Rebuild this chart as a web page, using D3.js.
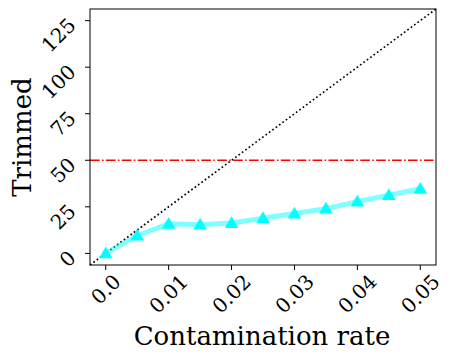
<!DOCTYPE html>
<html>
<head>
<meta charset="utf-8">
<script src="https://cdn.jsdelivr.net/npm/d3@7"></script>
<style>
  body { margin: 0; background: #fff; }
  svg { font-family: "DejaVu Serif", serif; }
</style>
</head>
<body>
<div id="chart"></div>
<script>
// contamination rates and number of trimmed samples
const rates = [0, 0.005, 0.01, 0.015, 0.02, 0.025, 0.03, 0.035, 0.04, 0.045, 0.05];
const trimmed = [0, 9.5, 15.9, 15.4, 16.3, 18.9, 21.4, 24.0, 27.8, 31.3, 34.7];
const xTicks = [0, 0.01, 0.02, 0.03, 0.04, 0.05];
const xTickLabels = ["0.0", "0.01", "0.02", "0.03", "0.04", "0.05"];
const yTicks = [0, 25, 50, 75, 100, 125];
const threshold = 50;
const nSamples = 2500; // diagonal: trimmed = rate * n
const xLimits = [-0.0025, 0.0525];

const W = 453, H = 360;
const margin = { top: 9, right: 17, bottom: 95, left: 90 };
const width = W - margin.left - margin.right,
  height = H - margin.top - margin.bottom;

const svg = d3.select("#chart").append("svg")
  .attr("width", W).attr("height", H);
const g = svg.append("g")
  .attr("transform", `translate(${margin.left},${margin.top})`);

const x = d3.scaleLinear().domain(xLimits).range([0, width]);
const y = d3.scaleLinear()
  .domain([xLimits[0] * nSamples, xLimits[1] * nSamples])
  .range([height, 0]);

// diagonal dotted line
g.append("path")
  .datum(xLimits)
  .attr("fill", "none")
  .attr("stroke", "black")
  .attr("stroke-width", 1.7)
  .attr("stroke-dasharray", "1.7,2.5")
  .attr("d", d3.line().x(d => x(d)).y(d => y(d * nSamples)));

// threshold line
g.append("line")
  .attr("x1", 0).attr("x2", width)
  .attr("y1", y(threshold)).attr("y2", y(threshold))
  .attr("stroke", "red")
  .attr("stroke-width", 1.5)
  .attr("stroke-dasharray", "9.6,2.4,1.5,2.4");

// trimmed line
g.append("path")
  .datum(rates)
  .attr("fill", "none")
  .attr("stroke", "cyan")
  .attr("stroke-opacity", 0.5)
  .attr("stroke-width", 5)
  .attr("d", d3.line().x(d => x(d)).y((d, i) => y(trimmed[i])));

g.append("g").selectAll("path")
  .data(rates)
  .enter().append("path")
  .attr("d", d3.symbol().type(d3.symbolTriangle).size(80))
  .attr("fill", "cyan")
  .attr("transform", (d, i) => `translate(${x(d)},${y(trimmed[i]) + 1})`);

// spines
g.append("rect")
  .attr("width", width).attr("height", height)
  .attr("fill", "none").attr("stroke", "black").attr("stroke-width", 1);

// x axis
const xAxis = g.append("g").attr("transform", `translate(0,${height})`);
xAxis.selectAll("line").data(xTicks).enter().append("line")
  .attr("x1", d => x(d)).attr("x2", d => x(d))
  .attr("y1", 0).attr("y2", 5).attr("stroke", "black");
xAxis.selectAll("text").data(xTicks).enter().append("text")
  .attr("font-size", 20)
  .attr("text-anchor", "middle")
  .attr("dy", "0.35em")
  .text((d, i) => xTickLabels[i])
  .each(function (d) {
    const w = this.getComputedTextLength();
    const cy = 8 + (w + 14.5) / Math.SQRT2 / 2;
    d3.select(this).attr("x", x(d)).attr("y", cy)
      .attr("transform", `rotate(-45,${x(d)},${cy})`);
  });

// y axis
const yAxis = g.append("g");
yAxis.selectAll("line").data(yTicks).enter().append("line")
  .attr("x1", -5).attr("x2", 0)
  .attr("y1", d => y(d)).attr("y2", d => y(d)).attr("stroke", "black");
yAxis.selectAll("text").data(yTicks).enter().append("text")
  .attr("font-size", 20)
  .attr("text-anchor", "end")
  .attr("dy", "0.35em")
  .attr("x", -18).attr("y", d => y(d) + 1)
  .attr("transform", d => `rotate(-45,-18,${y(d) + 1})`)
  .text(d => d);

// axis labels
svg.append("text")
  .attr("x", margin.left + width / 2 - 1).attr("y", 345)
  .attr("text-anchor", "middle").attr("font-size", 26)
  .text("Contamination rate");
svg.append("text")
  .attr("transform", `translate(31,${margin.top + height / 2}) rotate(-90)`)
  .attr("text-anchor", "middle").attr("font-size", 26)
  .text("Trimmed");
</script>
</body>
</html>
